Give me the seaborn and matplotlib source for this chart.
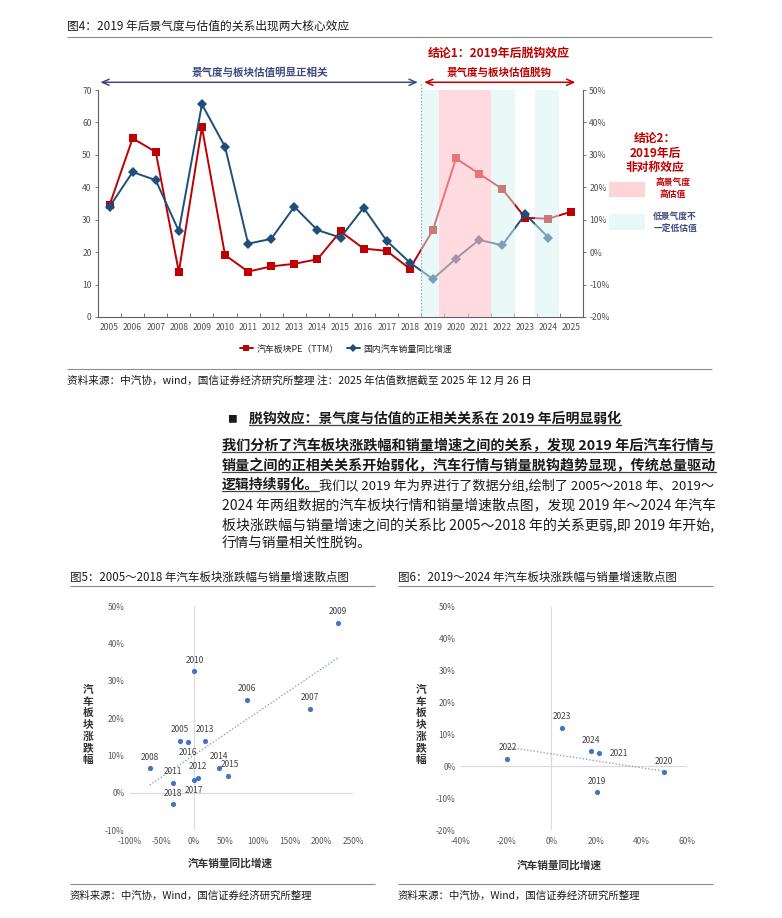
import numpy as np
import matplotlib
matplotlib.use('Agg')
import matplotlib.pyplot as plt
import seaborn as sns
from matplotlib.lines import Line2D
from matplotlib.patches import Rectangle
from matplotlib.ticker import FixedLocator, FuncFormatter

# ---- data: figure 4 (PE vs sales growth) ----
years = list(range(2005, 2026))
pe_ttm = [34.5, 55.1, 50.9, 13.9, 58.5, 19.1, 14.0, 15.6, 16.4, 17.8, 26.4,
          21.1, 20.4, 14.9, 26.8, 48.9, 44.2, 39.5, 30.6, 30.3, 32.5]
sales_years = list(range(2005, 2025))
sales_growth = [14.0, 24.7, 22.2, 6.5, 45.6, 32.5, 2.6, 4.1, 14.0, 6.8, 4.5,
                13.7, 3.5, -3.2, -8.3, -2.0, 3.8, 2.1, 11.7, 4.5]

# ---- data: figure 5 (2005-2018 scatter) ----
s5_labels = ['2005', '2006', '2007', '2008', '2009', '2010', '2011',
             '2012', '2013', '2014', '2015', '2016', '2017', '2018']
s5_x = [-21.4, 83.1, 181.8, -69.0, 225.7, 1.0, -32.9, 6.8, 17.2, 40.2, 53.3, -9.4, 0.0, -32.9]
s5_y = [13.9, 24.9, 22.4, 6.5, 45.5, 32.5, 2.7, 4.0, 13.9, 6.7, 4.5, 13.7, 3.5, -3.1]

# ---- data: figure 6 (2019-2024 scatter) ----
s6_labels = ['2019', '2020', '2021', '2022', '2023', '2024']
s6_x = [20.1, 49.9, 21.3, -19.4, 4.9, 17.5]
s6_y = [-8.2, -1.9, 4.0, 2.3, 12.0, 4.7]

# ---- text ----
fig4_title = '图4：2019 年后景气度与估值的关系出现两大核心效应'
fig4_source = '资料来源：中汽协，wind，国信证券经济研究所整理 注：2025 年估值数据截至 2025 年 12 月 26 日'
section_title = '脱钩效应：景气度与估值的正相关关系在 2019 年后明显弱化'
para_bold = ['我们分析了汽车板块涨跌幅和销量增速之间的关系，发现 2019 年后汽车行情与',
             '销量之间的正相关关系开始弱化，汽车行情与销量脱钩趋势显现，传统总量驱动',
             '逻辑持续弱化。']
para_normal = ['我们以 2019 年为界进行了数据分组,绘制了 2005～2018 年、2019～',
               '2024 年两组数据的汽车板块行情和销量增速散点图，发现 2019 年～2024 年汽车',
               '板块涨跌幅与销量增速之间的关系比 2005～2018 年的关系更弱,即 2019 年开始,',
               '行情与销量相关性脱钩。']
fig5_title = '图5：2005～2018 年汽车板块涨跌幅与销量增速散点图'
fig6_title = '图6：2019～2024 年汽车板块涨跌幅与销量增速散点图'
scatter_source = '资料来源：中汽协，Wind，国信证券经济研究所整理'

RED = '#C00000'
NAVY = '#1F4E79'
SLATE = '#3D4A7E'
DOT = '#4472C4'
TXT = '#1A1A1A'
TICK = '#505050'

sns.set_style('white')
plt.rcParams['font.family'] = ['Noto Sans CJK SC', 'DejaVu Sans']
plt.rcParams['axes.unicode_minus'] = False

W, H = 782, 918
fig = plt.figure(figsize=(W / 100, H / 100), dpi=100)
page = fig.add_axes([0, 0, 1, 1])
page.set_xlim(0, W)
page.set_ylim(H, 0)
page.axis('off')


def box(x0, y0, x1, y1):
    return [x0 / W, 1 - y1 / H, (x1 - x0) / W, (y1 - y0) / H]


def hline(x0, x1, y, color='#8C8C8C', lw=0.8):
    page.plot([x0, x1], [y, y], color=color, lw=lw, solid_capstyle='butt')


# ================= figure 4 =================
page.text(67, 26, fig4_title, fontsize=8.45, color=TXT, va='center')
hline(67, 712, 37)

ax = fig.add_axes(box(98, 90, 583, 317))
ax.patch.set_alpha(0)
ax2 = ax.twinx()

sns.lineplot(x=years, y=pe_ttm, ax=ax, color=RED, marker='s', markersize=5.5,
             markeredgewidth=0, lw=1.4)
sns.lineplot(x=sales_years, y=sales_growth, ax=ax2, color=NAVY, marker='D',
             markersize=5, markeredgewidth=0, lw=1.4, zorder=3)

spans = [(2018.5, 2019.25, '#D6F3F3', 0.5),
         (2019.25, 2021.5, '#FFC4CA', 0.6),
         (2021.5, 2022.55, '#D6F3F3', 0.5),
         (2023.4, 2024.45, '#D6F3F3', 0.5)]
for x0, x1, c, a in spans:
    ax2.axvspan(x0, x1, color=c, alpha=a, lw=0, zorder=5)

ax2.axvline(2018.5, ymin=0, ymax=1.035, clip_on=False, ls=':', lw=0.9,
            color='#7F9DB5', zorder=6)

ax.set_xlim(2004.5, 2025.5)
ax.set_ylim(0, 70)
ax2.set_ylim(-20, 50)
ax.set_xticks(years)
ax.set_xticklabels([str(y) for y in years])
ax.xaxis.set_minor_locator(FixedLocator(np.arange(2004.5, 2026, 1.0)))
ax.set_yticks(range(0, 71, 10))
ax2.set_yticks(range(-20, 51, 10))
ax2.yaxis.set_major_formatter(FuncFormatter(lambda v, p: f'{v:.0f}%'))
ax.tick_params(axis='x', which='major', bottom=True, length=0, pad=4,
               labelsize=6.2, labelcolor=TICK)
ax.tick_params(axis='x', which='minor', bottom=True, direction='in', length=3,
               width=0.6, color='#606060')
ax.tick_params(axis='y', left=True, length=2.5, width=0.6, pad=2,
               labelsize=6.2, labelcolor=TICK, color='#606060')
ax2.tick_params(axis='y', right=True, length=2.5, width=0.6, pad=2,
                labelsize=6.2, labelcolor=TICK, color='#606060')
for s in ['top', 'right']:
    ax.spines[s].set_visible(False)
for s in ['top', 'left', 'bottom']:
    ax2.spines[s].set_visible(False)
for a_, s in [(ax, 'left'), (ax, 'bottom'), (ax2, 'right')]:
    a_.spines[s].set_color('#606060')
    a_.spines[s].set_linewidth(0.8)
ax.set_xlabel('')
ax.set_ylabel('')
ax2.set_ylabel('')

arrow_blue = dict(arrowstyle='<->,head_length=0.5,head_width=0.22', color=SLATE,
                  lw=1.1, shrinkA=0, shrinkB=0)
arrow_red = dict(arrow_blue, color=RED)
ax2.annotate('', xy=(2018.35, 1.034), xytext=(2004.6, 1.034),
             xycoords=('data', 'axes fraction'), arrowprops=arrow_blue,
             annotation_clip=False)
ax2.annotate('', xy=(2025.17, 1.034), xytext=(2018.62, 1.034),
             xycoords=('data', 'axes fraction'), arrowprops=arrow_red,
             annotation_clip=False)
tr = ax2.get_xaxis_transform()
ax2.text(2011.5, 1.078, '景气度与板块估值明显正相关', transform=tr, ha='center',
         va='center', fontsize=7.6, color=SLATE, fontweight='bold')
ax2.text(2021.88, 1.078, '景气度与板块估值脱钩', transform=tr, ha='center',
         va='center', fontsize=7.6, color=RED, fontweight='bold')
ax2.text(2021.84, 1.164, '结论1：2019年后脱钩效应', transform=tr, ha='center',
         va='center', fontsize=8.6, color=RED, fontweight='bold')

page.text(655, 153, '结论2：\n2019年后\n非对称效应', ha='center', va='center',
          fontsize=8.5, color=RED, fontweight='bold', linespacing=1.15)
page.add_patch(Rectangle((609, 182), 36, 15, color='#FFD4D8', lw=0))
page.add_patch(Rectangle((609, 214), 36, 16, color='#E8F8F8', lw=0))
page.text(673, 189.5, '高景气度\n高估值', ha='center', va='center', fontsize=6.3,
          color=RED, fontweight='bold', linespacing=1.45)
page.text(675, 222.5, '低景气度不\n一定低估值', ha='center', va='center', fontsize=6.3,
          color=SLATE, fontweight='bold', linespacing=1.45)

handles = [Line2D([], [], color=RED, marker='s', markersize=4.5, mew=0, lw=1.4),
           Line2D([], [], color=NAVY, marker='D', markersize=4, mew=0, lw=1.4)]
fig.legend(handles, ['汽车板块PE（TTM）', '国内汽车销量同比增速'], loc='center',
           bbox_to_anchor=(346 / W, 1 - 349 / H), ncol=2, frameon=False,
           fontsize=6.4, handlelength=1.5, handletextpad=0.4, columnspacing=0.9)

hline(67, 712, 369)
page.text(67, 381, fig4_source, fontsize=7.65, color=TXT, va='center')

# ================= paragraph =================
page.text(227, 419, '■', fontsize=7, color=TXT, va='center')
t_title = page.text(249, 419, section_title, fontsize=10, color=TXT,
                    fontweight='bold', va='center')
line_y = [446, 465.6, 485.2, 504.8, 524.4, 544]
underlined = [t_title]
for i, s in enumerate(para_bold):
    t = page.text(222, line_y[i], s, fontsize=10, color=TXT, fontweight='bold', va='center')
    underlined.append(t)
justify = underlined[1:3]
t3 = page.annotate(para_normal[0], xy=(1, 0), xycoords=underlined[-1], va='bottom',
                   ha='left', fontsize=9.8, color=TXT)
justify.append(t3)
for i, s in enumerate(para_normal[1:]):
    t = page.text(222, line_y[3 + i], s, fontsize=9.8, color=TXT, va='center')
    if i < 2:
        justify.append(t)

# fit the full lines to the right margin (justified text in the report)
fig.canvas.draw()
rend = fig.canvas.get_renderer()
for t in justify:
    bb = t.get_window_extent(renderer=rend)
    t.set_fontsize(t.get_fontsize() * (714 - bb.x0) / (bb.x1 - bb.x0))

fig.canvas.draw()
rend = fig.canvas.get_renderer()
inv = page.transData.inverted()
for t in underlined:
    bb = t.get_window_extent(renderer=rend)
    (x0, y0), (x1, y1) = inv.transform([[bb.x0, bb.y0], [bb.x1, bb.y1]])
    page.plot([x0, x1], [max(y0, y1) - 0.8] * 2, color='#444444', lw=0.9)


# ================= scatter panels =================
def scatter_panel(rect, xs, ys, labels, xlim, ylim, xstep, ystep, offsets):
    a = fig.add_axes(rect)
    a.patch.set_alpha(0)
    a.axhline(0, color='#D9D9D9', lw=0.8, zorder=1)
    a.axvline(0, color='#D9D9D9', lw=0.8, zorder=1)
    sns.regplot(x=xs, y=ys, ax=a, scatter=False, ci=None, truncate=True,
                line_kws=dict(ls=':', color='#7F93B5', lw=0.9))
    sns.scatterplot(x=xs, y=ys, ax=a, color=DOT, s=14, linewidth=0, zorder=3)
    for x, y, lab in zip(xs, ys, labels):
        dx, dy = offsets.get(lab, (0, 8))
        a.annotate(lab, (x, y), xytext=(dx, dy), textcoords='offset points',
                   ha='center', va='center', fontsize=6, color='#404040')
    a.set_xlim(*xlim)
    a.set_ylim(*ylim)
    a.set_xticks(np.arange(xlim[0], xlim[1] + 1, xstep))
    a.set_yticks(np.arange(ylim[0], ylim[1] + 1, ystep))
    a.xaxis.set_major_formatter(FuncFormatter(lambda v, p: f'{v:.0f}%'))
    a.yaxis.set_major_formatter(FuncFormatter(lambda v, p: f'{v:.0f}%'))
    a.tick_params(length=0, labelsize=6, labelcolor='#595959')
    a.tick_params(axis='x', pad=5)
    a.tick_params(axis='y', pad=4)
    for s in a.spines.values():
        s.set_visible(False)
    a.set_xlabel('')
    a.set_ylabel('')
    return a


page.text(70, 577, fig5_title, fontsize=8.3, color=TXT, va='center')
hline(70, 375, 586)
scatter_panel(box(130, 606, 353.3, 830), s5_x, s5_y, s5_labels, (-100, 250),
              (-10, 50), 50, 10, {'2016': (0, -8), '2017': (0, -8), '2015': (1.5, 8)})
page.text(88, 725, '汽\n车\n板\n块\n涨\n跌\n幅', ha='center', va='center',
          fontsize=7.7, fontweight='bold', color='#333333', linespacing=1.2)
page.text(230, 863, '汽车销量同比增速', ha='center', va='center', fontsize=7.7,
          fontweight='bold', color='#333333')
hline(70, 375, 884)
page.text(70, 896, scatter_source, fontsize=7.5, color=TXT, va='center')

page.text(398, 577, fig6_title, fontsize=8.3, color=TXT, va='center')
hline(398, 713, 586)
scatter_panel(box(461, 606.7, 686.7, 830), s6_x, s6_y, s6_labels, (-40, 60),
              (-20, 50), 20, 10, {'2021': (14, 0)})
page.text(421, 725, '汽\n车\n板\n块\n涨\n跌\n幅', ha='center', va='center',
          fontsize=7.7, fontweight='bold', color='#333333', linespacing=1.2)
page.text(559, 865, '汽车销量同比增速', ha='center', va='center', fontsize=7.7,
          fontweight='bold', color='#333333')
hline(398, 713, 884)
page.text(398, 896, scatter_source, fontsize=7.5, color=TXT, va='center')

fig.savefig('out.png', dpi=100)
